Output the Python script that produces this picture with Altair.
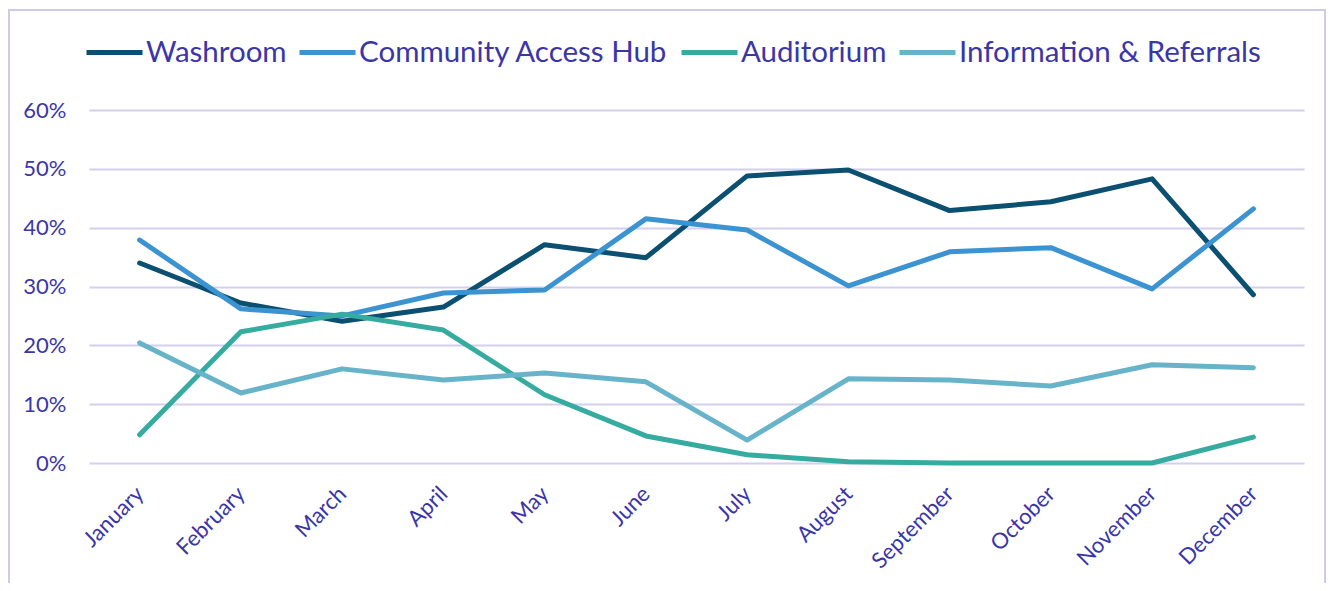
import altair as alt
import pandas as pd

months = ["January", "February", "March", "April", "May", "June", "July",
          "August", "September", "October", "November", "December"]
series = ["Washroom", "Community Access Hub", "Auditorium", "Information & Referrals"]
colors = ["#0B4F71", "#3B93D1", "#35AC9F", "#67B4CA"]
y_ticks = [0, 0.1, 0.2, 0.3, 0.4, 0.5, 0.6]

washroom = [0.340, 0.272, 0.241, 0.265, 0.371, 0.349, 0.488, 0.498, 0.429, 0.444, 0.483, 0.286]
community = [0.379, 0.262, 0.250, 0.289, 0.294, 0.415, 0.396, 0.301, 0.359, 0.366, 0.296, 0.432]
auditorium = [0.048, 0.223, 0.253, 0.226, 0.116, 0.046, 0.014, 0.002, 0.0, 0.0, 0.0, 0.044]
info = [0.204, 0.119, 0.160, 0.141, 0.153, 0.138, 0.039, 0.143, 0.141, 0.131, 0.167, 0.162]

rows = []
for name, vals in zip(series, [washroom, community, auditorium, info]):
    for m, v in zip(months, vals):
        rows.append({"Month": m, "Series": name, "Value": v})
df = pd.DataFrame(rows)

TEXT = "#3B36A8"
GRID = "#D3CFEE"
FONT = "Lato"

lines = alt.Chart(df).mark_line(strokeWidth=5, strokeCap="round", strokeJoin="round").encode(
    x=alt.X("Month:N", sort=months, title=None,
            scale=alt.Scale(paddingInner=0, paddingOuter=0.5),
            axis=alt.Axis(labelAngle=-45, labelAlign="right", labelBaseline="middle",
                          labelPadding=27, labelOffset=0, ticks=False, domain=False,
                          grid=False, labelFontSize=22, labelColor=TEXT, labelFont=FONT,
                          labelOverlap=False)),
    y=alt.Y("Value:Q", title=None,
            scale=alt.Scale(domain=[0, 0.6]),
            axis=alt.Axis(format=".0%", values=y_ticks, labelOverlap=False,
                          ticks=False, domain=False, grid=True, gridColor=GRID, gridWidth=2,
                          labelPadding=23, labelFontSize=22, labelColor=TEXT, labelFont=FONT)),
    color=alt.Color("Series:N", sort=series,
                    scale=alt.Scale(domain=series, range=colors),
                    legend=alt.Legend(title=None, orient="none", direction="horizontal",
                                      legendX=-5, legendY=-88,
                                      symbolType="stroke", symbolSize=3136, symbolStrokeWidth=5,
                                      labelFontSize=29.5, labelColor=TEXT, labelFont=FONT,
                                      labelOffset=1, columnPadding=2, labelLimit=500)),
)

border = alt.Chart(pd.DataFrame({"a": [0]})).mark_rect(
    fill=None, stroke="#CFC9EC", strokeWidth=2
).encode(
    x=alt.value(-80), x2=alt.value(1236), y=alt.value(-100), y2=alt.value(500)
)

chart = alt.layer(border, lines).properties(
    width=1215, height=353,
    autosize=alt.AutoSizeParams(type="none"),
    padding={"left": 81, "top": 102, "right": 22, "bottom": 120},
    view=alt.ViewBackground(stroke="transparent", strokeWidth=0),
).configure_view(
    strokeWidth=0
).configure_axis(domain=False).configure(background="white")

chart.save("out.html", embed_options={"renderer": "svg", "actions": False})
